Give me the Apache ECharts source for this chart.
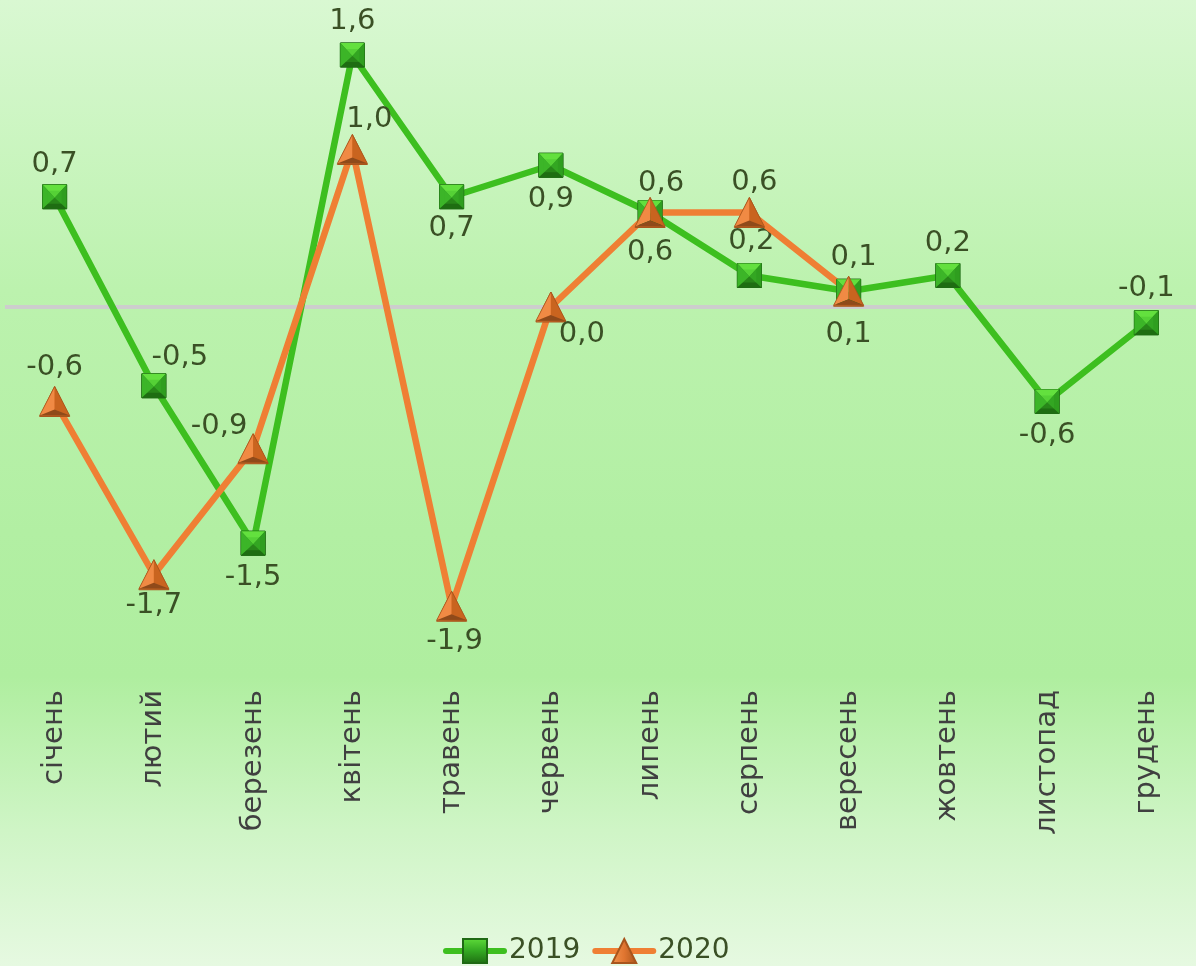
<!DOCTYPE html>
<html><head><meta charset="utf-8">
<script src="https://cdn.jsdelivr.net/npm/echarts@6/dist/echarts.min.js"></script>
<style>html,body{margin:0;padding:0;}#c{width:1196px;height:966px;}</style>
</head><body><div id="c"></div>
<script>
const months = ['січень','лютий','березень','квітень','травень','червень','липень','серпень','вересень','жовтень','листопад','грудень'];
const values2019 = [0.7, -0.5, -1.5, 1.6, 0.7, 0.9, 0.6, 0.2, 0.1, 0.2, -0.6, -0.1];
const values2020 = [-0.6, -1.7, -0.9, 1.0, -1.9, 0.0, 0.6, 0.6, 0.1];

// label placement (style only)
const lab2019 = [['top',[0,2]],['top',[26,6]],['bottom',[0,0]],['top',[0,0]],['bottom',[0,-2]],['bottom',[0,0]],['bottom',[0,6]],['top',[2,0]],['bottom',[0,9]],['top',[0,2]],['bottom',[0,0]],['top',[0,0]]];
const lab2020 = [['top',[0,3]],['bottom',[0,-6]],['top',[-34,15]],['top',[17,7]],['bottom',[3,-2]],['bottom',[31,-10]],['top',[11,8]],['top',[5,7]],['top',[5,3]]];

const fmt = v => v.toFixed(1).replace('.', ',');
const FONT = 'DejaVu Sans';
const LABC = '#3a5025';

function lineData(vals, labs){
  return vals.map((v,i)=>({value:v, label:{position:labs[i][0], offset:labs[i][1]}}));
}

function sqPyramid(params, api){
  const p = api.coord([api.value(0), api.value(1)]);
  const h = 12, x = p[0], y = p[1];
  const c = [x, y+1];
  const tl=[x-h,y-h], tr=[x+h,y-h], br=[x+h,y+h], bl=[x-h,y+h];
  return {type:'group', children:[
    {type:'polygon', shape:{points:[tl,tr,br,bl]}, style:{fill:'#2b8a1c', stroke:'#1f6a14', lineWidth:1}},
    {type:'polygon', shape:{points:[tl,tr,c]}, style:{fill:'#63e03e'}},
    {type:'polygon', shape:{points:[tl,c,bl]}, style:{fill:'#3cb528'}},
    {type:'polygon', shape:{points:[tr,br,c]}, style:{fill:'#2f9e1f'}},
    {type:'polygon', shape:{points:[bl,c,br]}, style:{fill:'#1e6d12'}},
    {type:'polygon', shape:{points:[[x-7,y-6],[x+7,y-6],[x+7,y+7],[x-7,y+7]]}, style:{fill:'rgba(60,180,40,0.35)'}}
  ]};
}
function triPyramid(params, api){
  const p = api.coord([api.value(0), api.value(1)]);
  const x = p[0], y = p[1];
  const top=[x, y-15], bl=[x-15,y+14], br=[x+15,y+14], c=[x, y+8];
  return {type:'group', children:[
    {type:'polygon', shape:{points:[top,bl,c]}, style:{fill:'#f08a44'}},
    {type:'polygon', shape:{points:[top,c,br]}, style:{fill:'#c9641f'}},
    {type:'polygon', shape:{points:[bl,br,c]}, style:{fill:'#8f4a1a'}},
    {type:'polygon', shape:{points:[top,bl,br]}, style:{fill:'none', stroke:'#a8551c', lineWidth:0.8}}
  ]};
}

const greenGrad = {type:'linear',x:0,y:0,x2:0,y2:1,colorStops:[{offset:0,color:'#5fdc3a'},{offset:0.5,color:'#33a822'},{offset:1,color:'#1e6d12'}]};
const orangeGrad = {type:'linear',x:0,y:0,x2:1,y2:0,colorStops:[{offset:0,color:'#f4954f'},{offset:0.5,color:'#e07530'},{offset:1,color:'#a8551c'}]};

const chart = echarts.init(document.getElementById('c'));
chart.setOption({
  animation:false,
  backgroundColor:{type:'linear',x:0,y:0,x2:0,y2:1,colorStops:[
    {offset:0,color:'#d9f8d2'},{offset:0.3,color:'#bcf2ae'},{offset:0.55,color:'#b2efa3'},
    {offset:0.7,color:'#afee9f'},{offset:0.86,color:'#cff5c6'},{offset:1,color:'#e6f9e1'}]},
  textStyle:{fontFamily:FONT},
  legend:{
    data:['2019','2020'], left:438, top:932, itemWidth:58, itemHeight:30, itemGap:12,
    lineStyle:{width:6, cap:'round'},
    textStyle:{fontSize:28, color:LABC, fontFamily:FONT}
  },
  grid:{left:5, top:23.5, width:1194, height:661.5},
  xAxis:{
    type:'category', data:months, boundaryGap:true,
    axisLine:{show:false}, axisTick:{show:false}, splitLine:{show:false},
    axisLabel:{rotate:90, margin:5, fontSize:29, color:'#404040', fontFamily:FONT, interval:0}
  },
  yAxis:{type:'value', min:-2.4, max:1.8, show:false, splitLine:{show:false}},
  series:[
    {name:'2019', type:'line', data:lineData(values2019, lab2019), z:3,
     lineStyle:{color:'#3dbf1f', width:6.5}, itemStyle:{color:greenGrad, borderColor:'#1f6a14', borderWidth:1},
     symbol:'rect', symbolSize:24,
     label:{show:true, fontSize:29, color:LABC, distance:7, fontFamily:FONT, formatter:p=>fmt(p.value)},
     markLine:{silent:true, symbol:'none', label:{show:false}, lineStyle:{color:'#cdcdcd', width:4, type:'solid'}, data:[{yAxis:0}], z:1}
    },
    {name:'2020', type:'line', data:lineData(values2020, lab2020), z:4,
     lineStyle:{color:'#ef7f34', width:6.5}, itemStyle:{color:orangeGrad, borderColor:'#a8551c', borderWidth:1},
     symbol:'triangle', symbolSize:30,
     label:{show:true, fontSize:29, color:LABC, distance:7, fontFamily:FONT, formatter:p=>fmt(p.value)}
    },
    {name:'m2019', type:'custom', data:values2019.map((v,i)=>[i,v]), renderItem:sqPyramid, z:5, silent:true},
    {name:'m2020', type:'custom', data:values2020.map((v,i)=>[i,v]), renderItem:triPyramid, z:6, silent:true}
  ]
});
</script></body></html>
